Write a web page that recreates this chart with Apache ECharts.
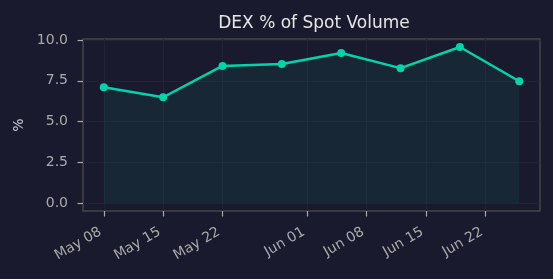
<!DOCTYPE html>
<html>
<head>
<meta charset="utf-8">
<script src="https://cdn.jsdelivr.net/npm/echarts@6/dist/echarts.min.js"></script>
<style>
  html, body { margin: 0; padding: 0; background: #1a1a2e; }
  #chart { width: 553px; height: 279px; }
</style>
</head>
<body>
<div id="chart"></div>
<script>
// weekly samples
const dates = ['2025-05-08', '2025-05-15', '2025-05-22', '2025-05-29', '2025-06-05', '2025-06-12', '2025-06-19', '2025-06-26'];
const dexShare = [7.10, 6.49, 8.41, 8.53, 9.20, 8.27, 9.57, 7.47];
const xTicks = ['2025-05-08', '2025-05-15', '2025-05-22', '2025-06-01', '2025-06-08', '2025-06-15', '2025-06-22'];
const yTicks = [0, 2.5, 5, 7.5, 10];

const MONTHS = ['Jan', 'Feb', 'Mar', 'Apr', 'May', 'Jun', 'Jul', 'Aug', 'Sep', 'Oct', 'Nov', 'Dec'];
const ts = d => Date.parse(d + 'T00:00:00Z');

const xs = dates.map(ts);
const pad = (xs[xs.length - 1] - xs[0]) * 0.05;
const xMin = xs[0] - pad, xMax = xs[xs.length - 1] + pad;

let chart = echarts.init(document.getElementById('chart'));
let option = {
    backgroundColor: '#1a1a2e',
    animation: false,
    textStyle: {fontFamily: 'DejaVu Sans'},
    title: {
        text: 'DEX % of Spot Volume',
        left: 309, top: 10, textAlign: 'center',
        textStyle: {color: '#e6e6e6', fontSize: 17, fontWeight: 'normal', fontFamily: 'DejaVu Sans'}
    },
    grid: {
        left: 83, right: 13, top: 39, bottom: 68,
        show: true, borderColor: '#444444', borderWidth: 1.5, backgroundColor: 'transparent'
    },
    xAxis: {
        type: 'value',
        min: xMin, max: xMax,
        axisLine: {show: false, onZero: false},
        axisTick: {show: true, length: 5.5, lineStyle: {color: '#aaaaaa', width: 1.2}, customValues: xTicks.map(ts)},
        axisLabel: {
            color: '#aaaaaa', fontSize: 14, rotate: 30, margin: 18,
            padding: [0, 4, 0, 0],
            customValues: xTicks.map(ts),
            formatter: v => {
                const d = new Date(v);
                return MONTHS[d.getUTCMonth()] + ' ' + String(d.getUTCDate()).padStart(2, '0');
            }
        },
        splitLine: {show: true, lineStyle: {color: '#222236', width: 1}}
    },
    yAxis: {
        type: 'value',
        min: -0.48, max: 10.06,
        name: '%', nameLocation: 'middle', nameGap: 55, nameRotate: 90,
        nameTextStyle: {color: '#cccccc', fontSize: 14},
        axisLine: {show: false, onZero: false},
        axisTick: {show: true, length: 5.5, lineStyle: {color: '#aaaaaa', width: 1.2}, customValues: yTicks},
        axisLabel: {
            color: '#aaaaaa', fontSize: 14, margin: 15,
            customValues: yTicks,
            formatter: v => v.toFixed(1)
        },
        splitLine: {show: true, lineStyle: {color: '#222236', width: 1}}
    },
    series: [{
        type: 'line',
        data: xs.map((x, i) => [x, dexShare[i]]),
        symbol: 'circle', symbolSize: 8,
        itemStyle: {color: '#00d4aa'},
        lineStyle: {color: '#00d4aa', width: 2.4},
        areaStyle: {color: 'rgba(0,212,170,0.1)', origin: 0}
    }]
};
chart.setOption(option, true);
</script>
</body>
</html>
